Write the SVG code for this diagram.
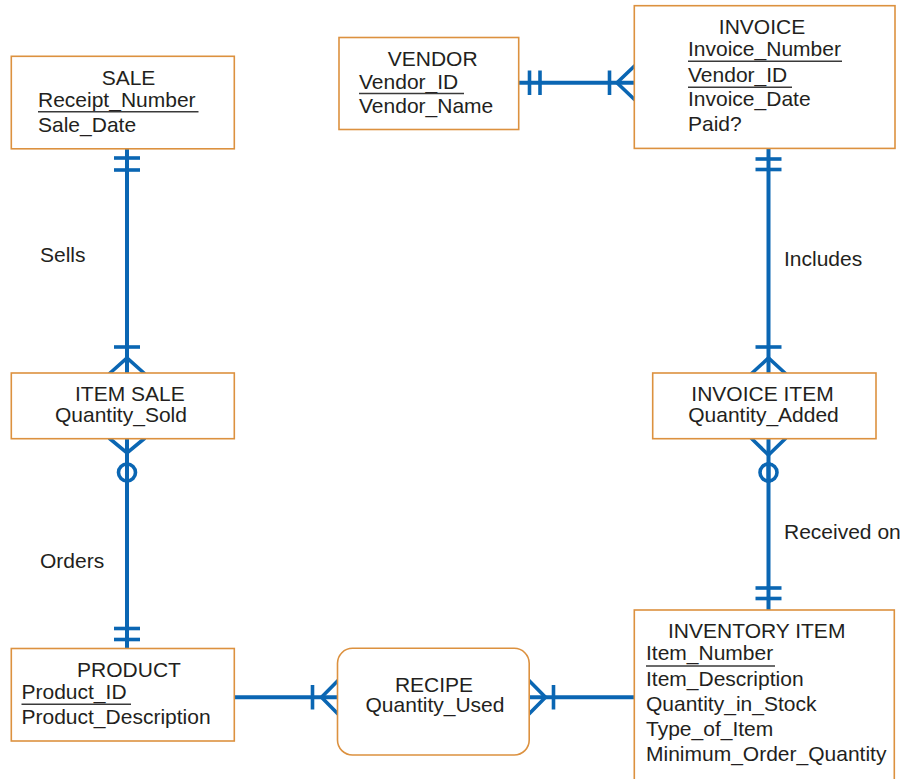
<svg xmlns="http://www.w3.org/2000/svg" width="902" height="779" viewBox="0 0 902 779">
  <style>
    .box { fill: #ffffff; stroke: #dc913f; stroke-width: 1.6; }
    .t { font-family: "Liberation Sans", Arial, Helvetica, sans-serif; font-size: 21px; fill: #231f20; }
    .c { text-anchor: middle; }
    .ul { stroke: #3a3a3a; stroke-width: 1.5; }
    .rel { fill: none; stroke: #0a66b3; stroke-width: 4; }
    .mark { fill: none; stroke: #0a66b3; stroke-width: 3.6; }
  </style>

  <!-- connectors, drawn first so that boxes sit on top of line ends -->
  <g id="connectors">
    <!-- SALE to ITEM SALE: one and only one / one or many -->
    <line class="rel" x1="127" y1="149" x2="127" y2="373"/>
    <line class="mark" x1="114" y1="158" x2="140" y2="158"/>
    <line class="mark" x1="114" y1="170" x2="140" y2="170"/>
    <line class="mark" x1="114" y1="347" x2="140" y2="347"/>
    <polyline class="mark" points="109,374 127,358 145,374"/>

    <!-- ITEM SALE to PRODUCT: zero or many / one and only one -->
    <line class="rel" x1="127" y1="439" x2="127" y2="649"/>
    <polyline class="mark" points="109,438 127,453 145,438"/>
    <circle class="mark" cx="127" cy="472.5" r="8.5" fill="#ffffff"/>
    <line class="rel" x1="127" y1="462" x2="127" y2="483"/>
    <line class="mark" x1="114" y1="628.5" x2="140" y2="628.5"/>
    <line class="mark" x1="114" y1="639.5" x2="140" y2="639.5"/>

    <!-- VENDOR to INVOICE -->
    <line class="rel" x1="519" y1="82.7" x2="634" y2="82.7"/>
    <line class="mark" x1="529.5" y1="70.5" x2="529.5" y2="95"/>
    <line class="mark" x1="540" y1="70.5" x2="540" y2="95"/>
    <line class="mark" x1="609.5" y1="70.5" x2="609.5" y2="95"/>
    <polyline class="mark" points="635,65.5 617,82.7 635,100"/>

    <!-- INVOICE to INVOICE ITEM -->
    <line class="rel" x1="768.5" y1="149" x2="768.5" y2="373"/>
    <line class="mark" x1="755.5" y1="159" x2="781.5" y2="159"/>
    <line class="mark" x1="755.5" y1="169.5" x2="781.5" y2="169.5"/>
    <line class="mark" x1="755.5" y1="347" x2="781.5" y2="347"/>
    <polyline class="mark" points="751,374 768.5,358 786,374"/>

    <!-- INVOICE ITEM to INVENTORY ITEM -->
    <line class="rel" x1="768.5" y1="439" x2="768.5" y2="610"/>
    <polyline class="mark" points="751,438 768.5,455 786,438"/>
    <circle class="mark" cx="768.5" cy="472.5" r="8.5" fill="#ffffff"/>
    <line class="rel" x1="768.5" y1="462" x2="768.5" y2="483"/>
    <line class="mark" x1="755.5" y1="588" x2="781.5" y2="588"/>
    <line class="mark" x1="755.5" y1="598.5" x2="781.5" y2="598.5"/>

    <!-- PRODUCT to RECIPE -->
    <line class="rel" x1="234" y1="697.3" x2="338" y2="697.3"/>
    <line class="mark" x1="312.5" y1="685" x2="312.5" y2="709.5"/>
    <polyline class="mark" points="339,679.5 321.5,697.3 339,715"/>

    <!-- RECIPE to INVENTORY ITEM -->
    <line class="rel" x1="529" y1="697.3" x2="634" y2="697.3"/>
    <polyline class="mark" points="528,679.5 545.5,697.3 528,715"/>
    <line class="mark" x1="553.5" y1="685" x2="553.5" y2="709.5"/>

    <!-- relationship names -->
    <text class="t" x="40" y="262">Sells</text>
    <text class="t" x="40" y="568">Orders</text>
    <text class="t" x="784" y="266">Includes</text>
    <text class="t" x="784" y="539">Received on</text>
  </g>

  <g id="sale">
    <rect class="box" x="11.3" y="56.3" width="223" height="92.5"/>
    <text class="t c" x="128.5" y="85">SALE</text>
    <text class="t" x="38" y="106.5">Receipt_Number</text>
    <line class="ul" x1="38" y1="111.7" x2="198.5" y2="111.7"/>
    <text class="t" x="38" y="132">Sale_Date</text>
  </g>

  <g id="vendor">
    <rect class="box" x="339" y="37.5" width="179.7" height="92"/>
    <text class="t c" x="432.7" y="66">VENDOR</text>
    <text class="t" x="359" y="89">Vendor_ID</text>
    <line class="ul" x1="359" y1="93.5" x2="464" y2="93.5"/>
    <text class="t" x="359" y="113.3">Vendor_Name</text>
  </g>

  <g id="invoice">
    <rect class="box" x="634.3" y="5.7" width="260.7" height="142.7"/>
    <text class="t c" x="762" y="34">INVOICE</text>
    <text class="t" x="688" y="56">Invoice_Number</text>
    <line class="ul" x1="688" y1="61.3" x2="842" y2="61.3"/>
    <text class="t" x="688" y="81.5">Vendor_ID</text>
    <line class="ul" x1="688" y1="87.3" x2="792" y2="87.3"/>
    <text class="t" x="688" y="106">Invoice_Date</text>
    <text class="t" x="688" y="130.7">Paid?</text>
  </g>

  <g id="item-sale">
    <rect class="box" x="11.3" y="373" width="223" height="65.7"/>
    <text class="t" x="75" y="401">ITEM SALE</text>
    <text class="t" x="55" y="421.5">Quantity_Sold</text>
  </g>

  <g id="invoice-item">
    <rect class="box" x="652.7" y="373" width="223.3" height="65.7"/>
    <text class="t c" x="762.5" y="401">INVOICE ITEM</text>
    <text class="t c" x="763.5" y="421.5">Quantity_Added</text>
  </g>

  <g id="product">
    <rect class="box" x="11.3" y="648.5" width="223" height="92.5"/>
    <text class="t c" x="129" y="677">PRODUCT</text>
    <text class="t" x="21.5" y="699">Product_ID</text>
    <line class="ul" x1="21.5" y1="704.3" x2="131" y2="704.3"/>
    <text class="t" x="21.5" y="724">Product_Description</text>
  </g>

  <g id="recipe">
    <rect class="box" x="337.5" y="648.3" width="191.7" height="106.7" rx="15" ry="15"/>
    <text class="t c" x="434" y="692">RECIPE</text>
    <text class="t c" x="435" y="712">Quantity_Used</text>
  </g>

  <g id="inventory-item">
    <rect class="box" x="634.3" y="610" width="260" height="185"/>
    <text class="t c" x="756.7" y="638.3">INVENTORY ITEM</text>
    <text class="t" x="646" y="660">Item_Number</text>
    <line class="ul" x1="646" y1="666" x2="775" y2="666"/>
    <text class="t" x="646" y="685.5">Item_Description</text>
    <text class="t" x="646" y="710.5">Quantity_in_Stock</text>
    <text class="t" x="646" y="735.5">Type_of_Item</text>
    <text class="t" x="646" y="760.5">Minimum_Order_Quantity</text>
  </g>
</svg>
